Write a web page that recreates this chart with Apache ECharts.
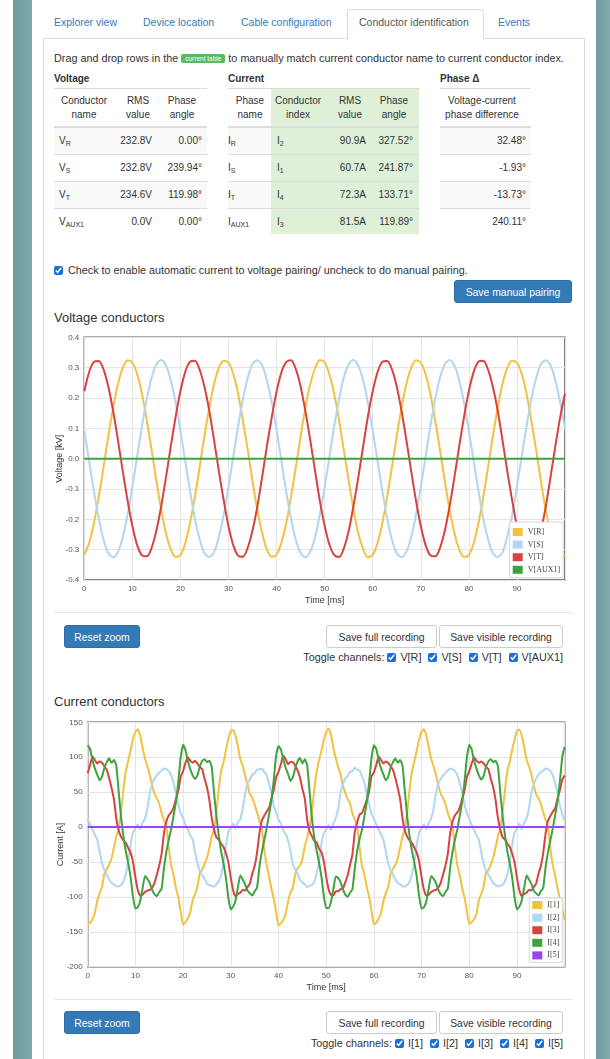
<!DOCTYPE html>
<html><head><meta charset="utf-8">
<script src="https://cdn.jsdelivr.net/npm/echarts@6/dist/echarts.min.js"></script>
<style>
html,body{margin:0;padding:0}
body{width:610px;height:1059px;position:relative;overflow:hidden;background:#fff;font-family:"Liberation Sans",Arial,sans-serif;font-size:10px;color:#333}
.a{position:absolute;white-space:nowrap;line-height:12px}
.p{font-size:10.8px}
.strip{position:absolute;top:0;height:1059px;background:linear-gradient(90deg,#6f9ca2,#7fa9ae)}
.tab{color:#337ab7;font-size:10.5px}
.b{font-weight:bold}
.hl{position:absolute;height:1px;background:#ddd}
.btn{position:absolute;height:23px;line-height:23px;text-align:center;border-radius:3px;font-size:10.4px;box-sizing:border-box}
.blue{background:#337ab7;border:1px solid #2e6da4;color:#fff}
.white{background:#fff;border:1px solid #ccc;color:#333}
.cb{width:9px;height:9px;margin:0 4px 0 7px;vertical-align:-1px;accent-color:#1a6fd8}
sub{font-size:7px;vertical-align:-2px;line-height:0}
.c{text-align:center}
</style></head><body>
<div class="strip" style="left:13px;width:19px"></div>
<div class="strip" style="left:596px;width:14px"></div>
<div style="position:absolute;left:43px;top:38px;width:540px;height:1100px;border:1px solid #ddd"></div>
<div style="position:absolute;left:347px;top:9px;width:135px;height:30px;border:1px solid #ddd;border-bottom:none;background:#fff;border-radius:3px 3px 0 0"></div>
<div class="a tab" style="left:54px;top:16px">Explorer view</div>
<div class="a tab" style="left:143px;top:16px">Device location</div>
<div class="a tab" style="left:241px;top:16px">Cable configuration</div>
<div class="a tab" style="left:359px;top:16px;color:#555">Conductor identification</div>
<div class="a tab" style="left:498px;top:16px">Events</div>

<div class="a p" style="left:54px;top:52px">Drag and drop rows in the <span style="display:inline-block;background:#5cb85c;color:#fff;font-size:6.5px;line-height:9px;padding:0 4px;border-radius:2px;vertical-align:1px">current table</span> to manually match current conductor name to current conductor index.</div>

<!-- table backgrounds -->
<div style="position:absolute;left:271px;top:88px;width:148px;height:146px;background:#dff0d8"></div>
<div style="position:absolute;left:54px;top:128px;width:153px;height:26px;background:#f9f9f9"></div>
<div style="position:absolute;left:54px;top:182px;width:153px;height:26px;background:#f9f9f9"></div>
<div style="position:absolute;left:228px;top:128px;width:43px;height:26px;background:#f9f9f9"></div>
<div style="position:absolute;left:228px;top:182px;width:43px;height:26px;background:#f9f9f9"></div>
<div style="position:absolute;left:440px;top:128px;width:91px;height:26px;background:#f9f9f9"></div>
<div style="position:absolute;left:440px;top:182px;width:91px;height:26px;background:#f9f9f9"></div>

<div class="a b" style="left:54px;top:73px">Voltage</div>
<div class="a b" style="left:228px;top:73px">Current</div>
<div class="a b" style="left:440px;top:73px">Phase Δ</div>

<div class="hl" style="left:54px;top:88px;width:153px"></div>
<div class="hl" style="left:228px;top:88px;width:191px"></div>
<div class="hl" style="left:440px;top:88px;width:91px"></div>
<div class="hl" style="left:54px;top:126px;width:153px;height:2px"></div>
<div class="hl" style="left:228px;top:126px;width:191px;height:2px"></div>
<div class="hl" style="left:440px;top:126px;width:91px;height:2px"></div>
<div class="hl" style="left:54px;top:154px;width:153px"></div>
<div class="hl" style="left:228px;top:154px;width:191px"></div>
<div class="hl" style="left:440px;top:154px;width:91px"></div>
<div class="hl" style="left:54px;top:181px;width:153px"></div>
<div class="hl" style="left:228px;top:181px;width:191px"></div>
<div class="hl" style="left:440px;top:181px;width:91px"></div>
<div class="hl" style="left:54px;top:208px;width:153px"></div>
<div class="hl" style="left:228px;top:208px;width:191px"></div>
<div class="hl" style="left:440px;top:208px;width:91px"></div>

<div class="a c" style="left:52px;width:64px;top:94px;line-height:14px">Conductor<br>name</div>
<div class="a c" style="left:118px;width:40px;top:94px;line-height:14px">RMS<br>value</div>
<div class="a c" style="left:162px;width:40px;top:94px;line-height:14px">Phase<br>angle</div>
<div class="a c" style="left:228px;width:44px;top:94px;line-height:14px">Phase<br>name</div>
<div class="a c" style="left:268px;width:60px;top:94px;line-height:14px">Conductor<br>index</div>
<div class="a c" style="left:330px;width:40px;top:94px;line-height:14px">RMS<br>value</div>
<div class="a c" style="left:374px;width:40px;top:94px;line-height:14px">Phase<br>angle</div>
<div class="a c" style="left:432px;width:100px;top:94px;line-height:14px">Voltage-current<br>phase difference</div>

<div class="a" style="left:59px;top:135px">V<sub>R</sub></div>
<div class="a" style="right:458px;top:135px">232.8V</div>
<div class="a" style="right:408px;top:135px">0.00°</div>
<div class="a" style="left:228px;top:135px">I<sub>R</sub></div>
<div class="a" style="left:277px;top:135px">I<sub>2</sub></div>
<div class="a" style="right:244px;top:135px">90.9A</div>
<div class="a" style="right:197px;top:135px">327.52°</div>
<div class="a" style="right:84px;top:135px">32.48°</div>

<div class="a" style="left:59px;top:162px">V<sub>S</sub></div>
<div class="a" style="right:458px;top:162px">232.8V</div>
<div class="a" style="right:408px;top:162px">239.94°</div>
<div class="a" style="left:228px;top:162px">I<sub>S</sub></div>
<div class="a" style="left:277px;top:162px">I<sub>1</sub></div>
<div class="a" style="right:244px;top:162px">60.7A</div>
<div class="a" style="right:197px;top:162px">241.87°</div>
<div class="a" style="right:84px;top:162px">-1.93°</div>

<div class="a" style="left:59px;top:189px">V<sub>T</sub></div>
<div class="a" style="right:458px;top:189px">234.6V</div>
<div class="a" style="right:408px;top:189px">119.98°</div>
<div class="a" style="left:228px;top:189px">I<sub>T</sub></div>
<div class="a" style="left:277px;top:189px">I<sub>4</sub></div>
<div class="a" style="right:244px;top:189px">72.3A</div>
<div class="a" style="right:197px;top:189px">133.71°</div>
<div class="a" style="right:84px;top:189px">-13.73°</div>

<div class="a" style="left:59px;top:216px">V<sub>AUX1</sub></div>
<div class="a" style="right:458px;top:216px">0.0V</div>
<div class="a" style="right:408px;top:216px">0.00°</div>
<div class="a" style="left:228px;top:216px">I<sub>AUX1</sub></div>
<div class="a" style="left:277px;top:216px">I<sub>3</sub></div>
<div class="a" style="right:244px;top:216px">81.5A</div>
<div class="a" style="right:197px;top:216px">119.89°</div>
<div class="a" style="right:84px;top:216px">240.11°</div>

<div class="a p" style="left:52px;top:264px"><input type="checkbox" class="cb" checked style="margin:0 5px 0 2px">Check to enable automatic current to voltage pairing/ uncheck to do manual pairing.</div>
<div class="btn blue" style="left:454px;top:280px;width:118px">Save manual pairing</div>

<div class="a" style="left:54px;top:310px;font-size:13px;line-height:16px">Voltage conductors</div>
<div class="hl" style="left:54px;top:612px;width:519px;background:#e8e8e8"></div>
<div class="btn blue" style="left:64px;top:625px;width:76px">Reset zoom</div>
<div class="btn white" style="left:326px;top:625px;width:111px">Save full recording</div>
<div class="btn white" style="left:439px;top:625px;width:124px">Save visible recording</div>
<div class="a p" style="right:47px;top:651px">Toggle channels:<input type="checkbox" class="cb" checked style="margin-left:3px">V[R]<input type="checkbox" class="cb" checked>V[S]<input type="checkbox" class="cb" checked>V[T]<input type="checkbox" class="cb" checked>V[AUX1]</div>

<div class="a" style="left:54px;top:694px;font-size:13px;line-height:16px">Current conductors</div>
<div class="hl" style="left:54px;top:999px;width:519px;background:#e8e8e8"></div>
<div class="btn blue" style="left:64px;top:1011px;width:76px">Reset zoom</div>
<div class="btn white" style="left:326px;top:1011px;width:111px">Save full recording</div>
<div class="btn white" style="left:439px;top:1011px;width:124px">Save visible recording</div>
<div class="a p" style="right:47px;top:1037px">Toggle channels:<input type="checkbox" class="cb" checked style="margin-left:3px">I[1]<input type="checkbox" class="cb" checked>I[2]<input type="checkbox" class="cb" checked>I[3]<input type="checkbox" class="cb" checked>I[4]<input type="checkbox" class="cb" checked>I[5]</div>

<div id="chart" style="position:absolute;left:0;top:0;width:610px;height:1059px;z-index:5"></div>
<script>
// ---- Voltage data (kV), sampled every 1 ms from 0 to 100 ms ----
const voltageNames = ['V[R]','V[S]','V[T]','V[AUX1]'];
const V_R = [
-0.317,-0.278,-0.213,-0.126,-0.028,0.074,0.168,0.246,0.299,0.324,0.317,0.278,0.213,0.126,0.028,-0.074,-0.168,-0.246,-0.299,-0.324,
-0.318,-0.279,-0.212,-0.127,-0.027,0.075,0.167,0.247,0.300,0.323,0.316,0.279,0.214,0.125,0.029,-0.075,-0.169,-0.245,-0.300,-0.323,
-0.316,-0.277,-0.214,-0.125,-0.029,0.073,0.169,0.245,0.298,0.325,0.318,0.277,0.212,0.127,0.027,-0.073,-0.167,-0.247,-0.298,-0.325,
-0.317,-0.278,-0.213,-0.126,-0.028,0.074,0.168,0.246,0.299,0.324,0.317,0.278,0.213,0.126,0.028,-0.074,-0.168,-0.246,-0.299,-0.324,
-0.318,-0.279,-0.212,-0.127,-0.027,0.075,0.167,0.247,0.300,0.323,0.316,0.279,0.214,0.125,0.029,-0.075,-0.169,-0.245,-0.300,-0.323,
-0.317];
const V_S = [
0.093,-0.007,-0.107,-0.197,-0.267,-0.311,-0.325,-0.307,-0.258,-0.185,-0.093,0.007,0.107,0.197,0.267,0.311,0.325,0.307,0.258,0.185,
0.092,-0.008,-0.106,-0.198,-0.266,-0.312,-0.324,-0.308,-0.257,-0.186,-0.092,0.008,0.106,0.198,0.266,0.312,0.324,0.308,0.257,0.186,
0.094,-0.006,-0.108,-0.196,-0.268,-0.310,-0.325,-0.306,-0.259,-0.184,-0.094,0.006,0.108,0.196,0.268,0.310,0.325,0.306,0.259,0.184,
0.093,-0.007,-0.107,-0.197,-0.267,-0.311,-0.325,-0.307,-0.258,-0.185,-0.093,0.007,0.107,0.197,0.267,0.311,0.325,0.307,0.258,0.185,
0.092,-0.008,-0.106,-0.198,-0.266,-0.312,-0.324,-0.308,-0.257,-0.186,-0.092,0.008,0.106,0.198,0.266,0.312,0.324,0.308,0.257,0.186,
0.096];
const V_T = [
0.222,0.285,0.319,0.322,0.294,0.237,0.157,0.061,-0.041,-0.138,-0.222,-0.285,-0.319,-0.322,-0.294,-0.237,-0.157,-0.061,0.041,0.138,
0.223,0.286,0.320,0.323,0.293,0.236,0.158,0.060,-0.042,-0.137,-0.223,-0.286,-0.320,-0.323,-0.293,-0.236,-0.158,-0.060,0.042,0.137,
0.221,0.284,0.318,0.324,0.295,0.238,0.156,0.062,-0.040,-0.139,-0.221,-0.284,-0.318,-0.324,-0.295,-0.238,-0.156,-0.062,0.040,0.139,
0.222,0.285,0.319,0.322,0.294,0.237,0.157,0.061,-0.041,-0.138,-0.222,-0.285,-0.319,-0.322,-0.294,-0.237,-0.157,-0.061,0.041,0.138,
0.223,0.286,0.320,0.323,0.293,0.236,0.158,0.060,-0.042,-0.137,-0.223,-0.286,-0.320,-0.323,-0.293,-0.236,-0.158,-0.060,0.042,0.137,
0.215];
const V_AUX1 = [
0,0,0,0,0,0,0,0,0,0,0,0,0,0,0,0,0,0,0,0,0,0,0,0,0,0,0,0,0,0,0,0,0,0,0,0,0,0,0,0,0,0,0,0,0,0,0,0,0,0,
0,0,0,0,0,0,0,0,0,0,0,0,0,0,0,0,0,0,0,0,0,0,0,0,0,0,0,0,0,0,0,0,0,0,0,0,0,0,0,0,0,0,0,0,0,0,0,0,0,0,0];

// ---- Current data (A), sampled every 0.5 ms from 0 to 100 ms ----
const currentNames = ['I[1]','I[2]','I[3]','I[4]','I[5]'];
const I_1 = [
-139,-137,-132,-123,-106,-95,-86,-67,-60,-54,-45,-29,-14,-2,22,55,80,95,110,126,137,140,131,114,98,87,75,60,48,41,33,20,10,0,-30,-55,-69,-87,-101,-121,
-140,-136,-131,-122,-105,-96,-85,-66,-61,-53,-44,-30,-13,-3,23,56,81,94,111,127,138,139,130,115,97,88,74,61,47,42,32,21,9,-1,-31,-54,-70,-88,-102,-122,
-141,-138,-133,-124,-107,-94,-87,-68,-59,-55,-46,-28,-15,-1,21,54,79,96,109,125,136,141,132,113,99,86,76,59,49,40,34,19,11,1,-29,-56,-68,-86,-100,-120,
-140,-137,-131,-123,-106,-95,-86,-67,-60,-54,-45,-29,-14,-2,22,55,80,95,110,126,137,140,131,114,98,87,75,60,48,41,33,20,10,0,-30,-55,-69,-87,-101,-121,
-139,-136,-132,-124,-105,-96,-85,-66,-61,-54,-44,-30,-13,-2,23,54,81,94,111,125,138,139,131,115,97,87,76,60,47,41,33,21,10,0,-31,-55,-70,-88,-102,-118,
-133];
const I_2 = [
12,4,-4,-11,-18,-35,-52,-62,-68,-75,-80,-82,-85,-85,-83,-78,-67,-50,-25,-8,-2,4,-3,6,12,26,48,62,69,74,78,81,84,83,80,74,63,48,32,20,
13,3,-3,-12,-17,-36,-51,-63,-69,-74,-81,-83,-84,-86,-82,-77,-68,-49,-26,-7,-1,5,-2,7,11,27,47,63,68,75,77,82,83,84,79,75,62,49,31,21,
11,5,-5,-10,-19,-34,-53,-61,-67,-76,-79,-82,-86,-84,-83,-79,-66,-51,-24,-9,-3,3,-4,5,13,25,49,61,70,73,79,80,85,82,81,73,64,47,33,19,
12,4,-4,-11,-18,-35,-52,-62,-68,-75,-80,-82,-85,-85,-83,-78,-67,-50,-25,-8,-2,4,-3,6,12,26,48,62,69,74,78,81,84,83,80,74,63,48,32,20,
12,3,-4,-12,-18,-36,-52,-63,-68,-74,-80,-83,-85,-84,-83,-77,-67,-49,-25,-8,-2,5,-3,6,12,27,48,62,69,75,78,81,84,83,80,74,63,48,31,18,
10];
const I_3 = [
77,89,101,96,91,94,92,87,82,70,56,40,12,-5,-14,-19,-23,-30,-37,-50,-72,-90,-98,-97,-93,-91,-90,-87,-80,-68,-55,-38,-8,8,17,21,28,40,52,72,
80,92,100,95,92,95,91,86,83,69,57,39,13,-4,-15,-18,-24,-29,-38,-51,-73,-91,-99,-96,-94,-90,-91,-86,-81,-67,-56,-37,-9,9,16,22,27,41,53,71,
79,90,102,97,90,93,93,88,81,71,55,41,11,-6,-13,-20,-22,-31,-36,-49,-71,-89,-97,-98,-92,-92,-89,-88,-79,-69,-54,-39,-7,7,18,20,29,39,51,73,
78,89,101,96,91,94,92,87,82,70,56,40,12,-5,-14,-19,-23,-30,-37,-50,-72,-90,-98,-97,-93,-91,-90,-87,-80,-68,-55,-38,-8,8,17,21,28,40,52,72,
80,91,100,95,92,94,91,86,83,69,57,39,13,-4,-15,-18,-24,-29,-38,-51,-73,-91,-99,-96,-94,-90,-91,-86,-81,-67,-56,-37,-9,9,16,22,27,41,53,68,
74];
const I_4 = [
117,112,96,84,75,67,72,85,93,98,92,96,88,50,14,-14,-35,-52,-72,-100,-117,-115,-106,-88,-70,-74,-80,-90,-96,-99,-93,-88,-58,-35,-18,-3,16,36,65,100,
118,110,95,83,74,69,74,86,95,97,93,95,86,48,15,-13,-36,-53,-74,-102,-118,-114,-105,-86,-69,-75,-82,-91,-95,-98,-92,-87,-57,-36,-19,-2,17,38,67,102,
116,111,97,85,76,66,71,84,94,99,91,97,89,52,13,-15,-34,-51,-71,-99,-116,-116,-107,-89,-71,-73,-79,-89,-97,-100,-94,-89,-59,-34,-17,-4,15,35,64,99,
117,112,96,84,75,67,72,85,93,98,92,96,88,50,14,-14,-35,-52,-72,-100,-117,-115,-106,-88,-70,-74,-80,-90,-96,-99,-93,-88,-58,-35,-18,-3,16,36,65,100,
118,111,95,84,74,68,73,86,94,97,93,95,87,49,15,-13,-36,-53,-73,-101,-118,-114,-105,-87,-69,-75,-81,-91,-95,-98,-92,-87,-57,-36,-19,-2,17,37,66,101,
115];
const I_5 = [
0,0,0,0,0,0,0,0,0,0,0,0,0,0,0,0,0,0,0,0,0,0,0,0,0,0,0,0,0,0,0,0,0,0,0,0,0,0,0,0,
0,0,0,0,0,0,0,0,0,0,0,0,0,0,0,0,0,0,0,0,0,0,0,0,0,0,0,0,0,0,0,0,0,0,0,0,0,0,0,0,
0,0,0,0,0,0,0,0,0,0,0,0,0,0,0,0,0,0,0,0,0,0,0,0,0,0,0,0,0,0,0,0,0,0,0,0,0,0,0,0,
0,0,0,0,0,0,0,0,0,0,0,0,0,0,0,0,0,0,0,0,0,0,0,0,0,0,0,0,0,0,0,0,0,0,0,0,0,0,0,0,
0,0,0,0,0,0,0,0,0,0,0,0,0,0,0,0,0,0,0,0,0,0,0,0,0,0,0,0,0,0,0,0,0,0,0,0,0,0,0,0,
0];

const voltageStepMs = 1, currentStepMs = 0.5;
const xTicksMs = {min:0, max:100, interval:10};
const voltageTicks = {min:-0.4, max:0.4, interval:0.1};
const currentTicks = {min:-200, max:150, interval:50};

const colors = ['#f2c23e','#afd6f2','#d8423f','#3fa23f','#9a44f2'];
function pairs(arr, step){ return arr.map((v,i)=>[i*step, v]); }

const axisLabelStyle = {fontFamily:'Liberation Sans', fontSize:8, color:'#555'};
const nameStyle = {fontFamily:'Liberation Sans', fontSize:9, color:'#333'};
function xAx(g){
  return {gridIndex:g, type:'value', min:xTicksMs.min, max:xTicksMs.max, interval:xTicksMs.interval,
    axisLine:{show:false}, axisTick:{show:false},
    splitLine:{show:true, lineStyle:{color:'#e4e4e4', width:1}},
    axisLabel:Object.assign({showMaxLabel:false, margin:5}, axisLabelStyle),
    name:'Time [ms]', nameLocation:'middle', nameGap:16, nameMoveOverlap:false, nameTextStyle:nameStyle};
}
function yAx(g, t, name, fmt, gap){
  return {gridIndex:g, type:'value', min:t.min, max:t.max, interval:t.interval,
    axisLine:{show:false}, axisTick:{show:false},
    splitLine:{show:true, lineStyle:{color:'#e4e4e4', width:1}},
    axisLabel:Object.assign({margin:5, formatter:fmt}, axisLabelStyle),
    name:name, nameLocation:'middle', nameGap:gap, nameMoveOverlap:false, nameTextStyle:nameStyle};
}
const legendText = {fontFamily:'Liberation Serif', fontSize:8, color:'#444', lineHeight:8};

const vData = [V_R, V_S, V_T, V_AUX1];
const iData = [I_1, I_2, I_3, I_4, I_5];
const series = [];
vData.forEach((d,k)=>series.push({name:voltageNames[k], type:'line', xAxisIndex:0, yAxisIndex:0,
  data:pairs(d, voltageStepMs), showSymbol:false, smooth:0.3, color:colors[k],
  lineStyle:{width:2, color:colors[k]}, itemStyle:{color:colors[k]}, animation:false}));
iData.forEach((d,k)=>series.push({name:currentNames[k], type:'line', xAxisIndex:1, yAxisIndex:1,
  data:pairs(d, currentStepMs), showSymbol:false, smooth:0.15, color:colors[k],
  lineStyle:{width:2, color:colors[k]}, itemStyle:{color:colors[k]}, animation:false}));

const chart = echarts.init(document.getElementById('chart'), null, {renderer:'canvas'});
chart.setOption({
  animation:false,
  backgroundColor:'transparent',
  grid:[
    {left:84.3, top:337.3, width:480.7, height:242.7, show:true, borderColor:'#5a5a5a', borderWidth:1.5, backgroundColor:'transparent', containLabel:false},
    {left:87.7, top:722.3, width:477, height:244.4, show:true, borderColor:'#5a5a5a', borderWidth:1.5, backgroundColor:'transparent', containLabel:false}
  ],
  xAxis:[xAx(0), xAx(1)],
  yAxis:[
    yAx(0, voltageTicks, 'Voltage [kV]', v=>v.toFixed(1), 20),
    yAx(1, currentTicks, 'Current [A]', v=>String(v), 23)
  ],
  legend:[
    {data:voltageNames, orient:'vertical', left:509.7, top:522, padding:[6,3,4,3], itemWidth:10, itemHeight:8, itemGap:4.6,
     icon:'rect', textStyle:legendText, backgroundColor:'#fff', borderColor:'#d8d8d8', borderWidth:1, selectedMode:false},
    {data:currentNames, orient:'vertical', left:529.3, top:898, padding:[3,3,3,3], itemWidth:10, itemHeight:8, itemGap:4.6,
     icon:'rect', textStyle:legendText, backgroundColor:'#fff', borderColor:'#d8d8d8', borderWidth:1, selectedMode:false}
  ],
  series:series
});
</script>
</body></html>
